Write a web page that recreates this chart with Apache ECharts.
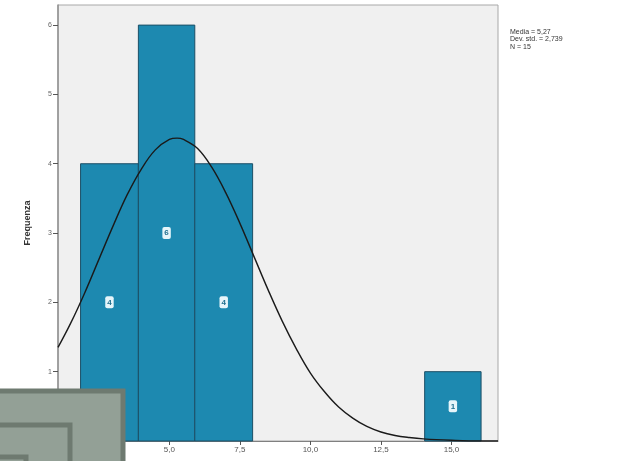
<!DOCTYPE html>
<html>
<head>
<meta charset="utf-8">
<script src="https://cdn.jsdelivr.net/npm/echarts@6/dist/echarts.min.js"></script>
<style>
html,body{margin:0;padding:0;background:#fff;}
#c{width:629px;height:461px;}
</style>
</head>
<body>
<div id="c"></div>
<script>
// Histogram bins
var binStart = [1.85, 3.9, 5.9, 14.05];
var binEnd   = [3.9, 5.9, 7.95, 16.05];
var counts   = [4, 6, 4, 1];
// Normal curve (x value, frequency)
var curveX = [1.05, 1.5, 2.0, 2.5, 3.0, 3.5, 4.0, 4.5, 5.0, 5.27, 5.5, 6.0, 6.5, 7.0, 7.5, 8.0, 8.5, 9.0, 9.5, 10.0, 10.5, 11.0, 11.5, 12.0, 12.5, 13.0, 13.5, 14.0, 15.0, 16.0, 16.65];
var curveY = [1.35, 1.70, 2.14, 2.62, 3.10, 3.55, 3.92, 4.20, 4.35, 4.37, 4.35, 4.22, 3.95, 3.58, 3.14, 2.66, 2.18, 1.73, 1.33, 0.98, 0.71, 0.49, 0.33, 0.21, 0.13, 0.08, 0.05, 0.03, 0.01, 0.0, 0.0];
var xTicks = [2.5, 5.0, 7.5, 10.0, 12.5, 15.0];
var yTicks = [0, 1, 2, 3, 4, 5, 6];
var statsLines = ['Media = 5,27', 'Dev. std. = 2,739', 'N = 15'];
var yName = 'Frequenza';

var bars = [];
for (var i = 0; i < counts.length; i++) bars.push([binStart[i], binEnd[i], counts[i]]);
var curve = [];
for (var j = 0; j < curveX.length; j++) curve.push([curveX[j], curveY[j]]);

var chart = echarts.init(document.getElementById('c'), null, {renderer: 'canvas'});
chart.setOption({
  animation: false,
  backgroundColor: '#ffffff',
  grid: {left: 58, right: 131, top: 5, bottom: 20, show: true, backgroundColor: '#f0f0f0', borderColor: '#a8a8a8', borderWidth: 1},
  xAxis: {
    type: 'value', min: 1.05, max: 16.65,
    axisLine: {show: true, lineStyle: {color: '#808080'}},
    axisTick: {show: true, length: 4, lineStyle: {color: '#555'}, customValues: xTicks},
    axisLabel: {show: true, fontSize: 8, color: '#555', margin: 5, customValues: xTicks,
      formatter: function (v) { return v.toFixed(1).replace('.', ','); }},
    splitLine: {show: false}
  },
  yAxis: {
    type: 'value', min: 0, max: 6.29,
    name: yName, nameLocation: 'middle', nameGap: 26, nameRotate: 90,
    nameTextStyle: {fontSize: 9, fontWeight: 'bold', color: '#333', fontFamily: 'Liberation Sans'},
    axisLine: {show: true, lineStyle: {color: '#909090', width: 1.5}},
    axisTick: {show: true, length: 5, lineStyle: {color: '#555'}, customValues: yTicks},
    axisLabel: {show: true, fontSize: 7, color: '#666', margin: 6, customValues: yTicks.slice(1)},
    splitLine: {show: false}
  },
  series: [
    {
      type: 'custom',
      data: bars,
      encode: {x: [0, 1], y: 2},
      renderItem: function (params, api) {
        var p0 = api.coord([api.value(0), api.value(2)]);
        var p1 = api.coord([api.value(1), 0]);
        return {
          type: 'rect',
          shape: {x: p0[0], y: p0[1], width: p1[0] - p0[0], height: p1[1] - p0[1]},
          style: {fill: '#1d89b0', stroke: '#1c4f66', lineWidth: 1}
        };
      },
      z: 2
    },
    {
      type: 'custom',
      data: bars,
      encode: {x: [0, 1], y: 2},
      renderItem: function (params, api) {
        var c = api.coord([(api.value(0) + api.value(1)) / 2, api.value(2) / 2]);
        return {
          type: 'text',
          x: c[0], y: c[1],
          style: {text: String(api.value(2)), fontSize: 8, fontWeight: 'bold', fill: '#1f6f8f',
            align: 'center', verticalAlign: 'middle',
            backgroundColor: '#e6f5fa', padding: [2, 2], borderRadius: 2}
        };
      },
      z: 4
    },
    {
      type: 'line',
      data: curve,
      smooth: 0.4,
      symbol: 'none',
      lineStyle: {color: '#1a1a1a', width: 1.4},
      z: 3
    }
  ],
  graphic: [
    {type: 'text', left: 510, top: 28, z: 10,
      style: {text: statsLines.join('\n'), fontSize: 7, lineHeight: 7.5, fill: '#333', fontFamily: 'Liberation Sans'}},
    {type: 'rect', z: 20, shape: {x: -6, y: 391, width: 129, height: 80},
      style: {fill: '#93a096', stroke: '#6e7a70', lineWidth: 5}},
    {type: 'rect', z: 21, shape: {x: -6, y: 425, width: 76, height: 50},
      style: {fill: '#93a096', stroke: '#6e7a70', lineWidth: 5}},
    {type: 'rect', z: 22, shape: {x: -6, y: 457, width: 32, height: 20},
      style: {fill: '#93a096', stroke: '#6e7a70', lineWidth: 5}}
  ]
});
</script>
</body>
</html>
